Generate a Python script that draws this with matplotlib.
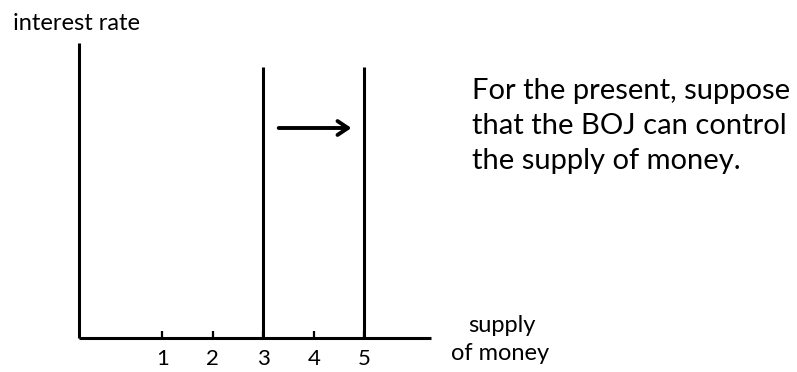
import matplotlib
matplotlib.use("Agg")
import matplotlib.pyplot as plt

# money supply before / after the BOJ shift
ticks = [1, 2, 3, 4, 5]
tick_labels = ["1", "2", "3", "4", "5"]
supply_old = 3
supply_new = 5

plt.rcParams['font.family'] = ['Lato', 'DejaVu Sans']

fig = plt.figure(figsize=(7.97, 3.72), dpi=100)
ax = fig.add_axes([0, 0, 1, 1])
# 1 unit of money ~ 50.5 px, rate axis in px above the x-axis
ax.set_xlim(-2.214, 13.568)
ax.set_ylim(-34, 338)
ax.axis('off')

lw = 2.2
x0 = -0.65
x_end = 6.32
ax.plot([x0, x0], [0, 295], color='black', lw=lw, solid_capstyle='butt')
ax.plot([x0, x_end], [0, 0], color='black', lw=lw, solid_capstyle='butt')

for t, lab in zip(ticks, tick_labels):
    ax.plot([t, t], [0, 7], color='black', lw=1.6, solid_capstyle='butt')
    ax.text(t, -21, lab, ha='center', va='center', fontsize=16)

for s in (supply_old, supply_new):
    ax.plot([s, s], [0, 271], color='black', lw=lw, solid_capstyle='butt')

ax.annotate('', xy=(supply_new - 0.2, 210), xytext=(supply_old + 0.25, 210),
            arrowprops=dict(arrowstyle='->,head_length=0.75,head_width=0.5',
                            color='black', lw=2.8))

ax.text(-1.957, 314, 'interest rate', ha='left', va='center', fontsize=17)
ax.text(7.73, 12, 'supply', ha='center', va='center', fontsize=17)
ax.text(7.69, -16, 'of money', ha='center', va='center', fontsize=17)

ax.text(7.13, 212, 'For the present, suppose\nthat the BOJ can control\nthe supply of money.',
        ha='left', va='center', fontsize=21, linespacing=1.45)

fig.savefig('out.png', dpi=100)
